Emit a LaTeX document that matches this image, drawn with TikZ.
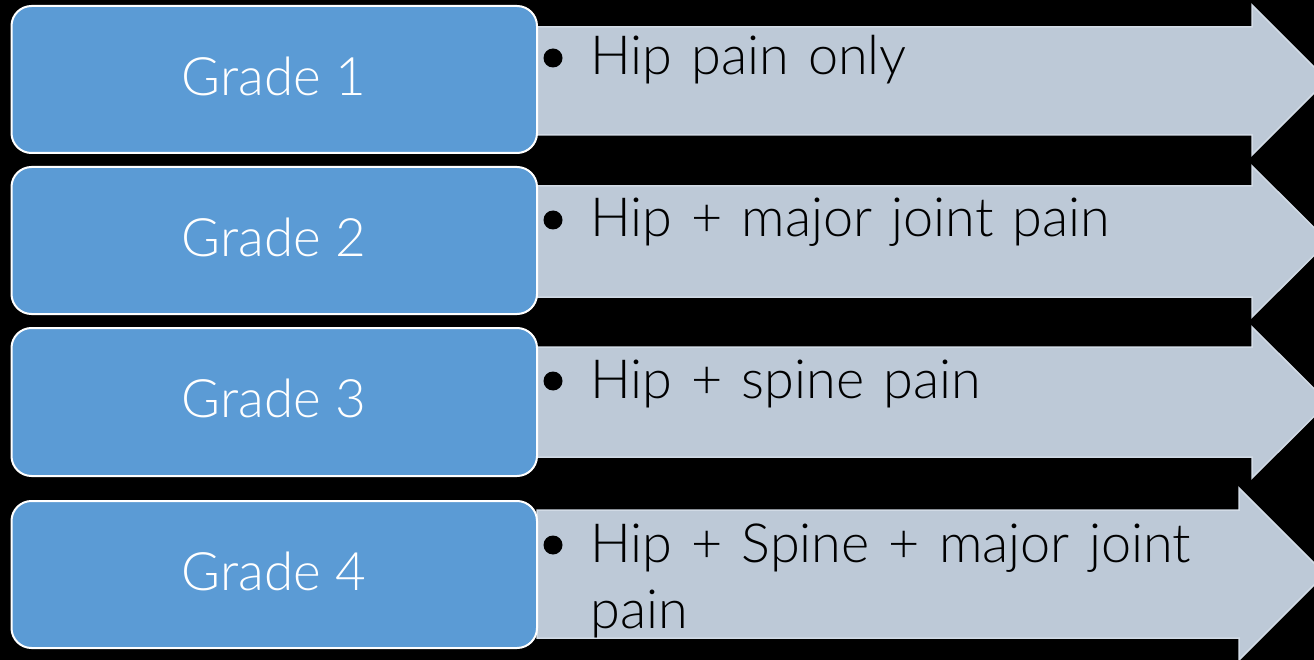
\documentclass[tikz,border=0pt]{standalone}
\usepackage{fontspec}
\setmainfont{Lato Light}
\newfontfamily\itemfont{Lato Light}[WordSpace=1.3]
\begin{document}
\begin{tikzpicture}[x=1pt,y=-1pt,
  gradebox/.style={draw=white,line width=2pt,fill=gradeblue,rounded corners=20pt},
  arrowshape/.style={draw=arrowedge,line width=1.5pt,fill=arrowfill,line join=miter},
  gradelabel/.style={text=white,font=\fontsize{53}{60}\selectfont,inner sep=0pt},
  itemtext/.style={text=black,font=\itemfont\fontsize{54}{66}\selectfont,inner sep=0pt,anchor=base west,align=left},
  bulletdot/.style={circle,fill=black,minimum size=19pt,inner sep=0pt}
]
\definecolor{gradeblue}{HTML}{5B9BD5}
\definecolor{arrowfill}{HTML}{BDC9D7}
\definecolor{arrowedge}{HTML}{D2DBE6}
\useasboundingbox (0,0) rectangle (1314,660);
\fill[black] (0,0) rectangle (1314,660);
\begin{scope}
\clip (0,0) rectangle (1314,660);
% arrows
\draw[arrowshape] (537,27) -- (1252,27) -- (1252,5) -- (1327,80) -- (1252,155) -- (1252,135) -- (537,135) -- cycle;
\draw[arrowshape] (537,186) -- (1252,186) -- (1252,166) -- (1328,241.5) -- (1252,317) -- (1252,297) -- (537,297) -- cycle;
\draw[arrowshape] (537,347) -- (1252,347) -- (1252,327) -- (1328,402.5) -- (1252,478) -- (1252,457) -- (537,457) -- cycle;
\draw[arrowshape] (537,510) -- (1239,510) -- (1239,488) -- (1325,574) -- (1239,660) -- (1239,638) -- (537,638) -- cycle;
\end{scope}
% grade boxes
\draw[gradebox] (11.5,6) rectangle (537,153);
\draw[gradebox] (11.5,167) rectangle (537,314);
\draw[gradebox] (11.5,328) rectangle (537,476);
\draw[gradebox] (11.5,501) rectangle (537,648);
\node[gradelabel] (g1) at (274,76) {Grade 1};
\node[gradelabel] (g2) at (274,237) {Grade 2};
\node[gradelabel] (g3) at (274,398) {Grade 3};
\node[gradelabel] (g4) at (274,571) {Grade 4};
% bullets
\node[bulletdot] (b1) at (553,58) {};
\node[bulletdot] (b2) at (553,220) {};
\node[bulletdot] (b3) at (553,381) {};
\node[bulletdot] (b4) at (553,545) {};
\node[itemtext] (t1) at (590,75) {Hip pain only};
\node[itemtext] (t2) at (590,237) {Hip + major joint pain};
\node[itemtext] (t3) at (590,398) {Hip + spine pain};
\node[itemtext] (t4) at (590,628) {Hip + Spine + major joint\\pain};
\end{tikzpicture}
\end{document}
